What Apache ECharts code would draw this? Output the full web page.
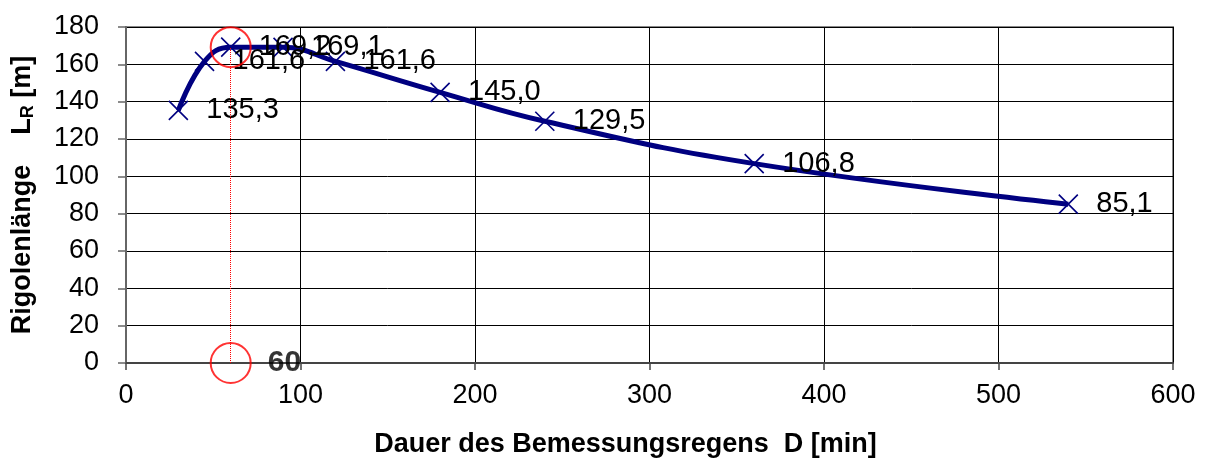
<!DOCTYPE html>
<html>
<head>
<meta charset="utf-8">
<script src="https://cdn.jsdelivr.net/npm/echarts@6/dist/echarts.min.js"></script>
<style>
html,body{margin:0;padding:0;background:#fff;}
#c{width:1207px;height:468px;}
</style>
</head>
<body>
<div id="c"></div>
<script>
// Data
var durations = [30, 45, 60, 90, 120, 180, 240, 360, 540];
var lengths = [135.3, 161.6, 169.2, 169.1, 161.6, 145.0, 129.5, 106.8, 85.1];
var optimumD = 60;
var optimumL = 169.2;
var xTitle = 'Dauer des Bemessungsregens  D [min]';

var FONT = '"Liberation Sans", Arial, sans-serif';
var seriesData = durations.map(function (d, i) { return [d, lengths[i]]; });
function fmt(v) { return v.toFixed(1).replace('.', ','); }

var chart = echarts.init(document.getElementById('c'));
chart.setOption({
  animation: false,
  backgroundColor: '#fff',
  grid: { left: 126, right: 34, top: 27, bottom: 105, show: true, borderColor: '#888', borderWidth: 2 },
  xAxis: {
    type: 'value', min: 0, max: 600, interval: 100,
    name: xTitle, nameLocation: 'middle', nameGap: 68,
    nameTextStyle: { fontFamily: FONT, fontSize: 27, fontWeight: 'bold', color: '#000', padding: [0, 48, 0, 0] },
    axisLine: { show: true, lineStyle: { color: '#444', width: 2 } },
    axisTick: { show: true, length: 7, lineStyle: { color: '#444', width: 1.5 } },
    axisLabel: { fontFamily: FONT, fontSize: 27, color: '#000', margin: 19 },
    splitLine: { show: true, lineStyle: { color: '#000', width: 1 } }
  },
  yAxis: {
    type: 'value', min: 0, max: 180, interval: 20,
    name: '{t|Rigolenlänge    L}{s|R}{t| [m]}', nameLocation: 'middle', nameGap: 89,
    nameTextStyle: {
      rich: {
        t: { fontFamily: FONT, fontSize: 27, fontWeight: 'bold', color: '#000' },
        s: { fontFamily: FONT, fontSize: 18, fontWeight: 'bold', color: '#000', padding: [10, 0, 0, 0] }
      }
    },
    axisLine: { show: true, lineStyle: { color: '#666', width: 2 } },
    axisTick: { show: true, length: 8, lineStyle: { color: '#666', width: 1.5 } },
    axisLabel: { fontFamily: FONT, fontSize: 27, color: '#000', margin: 27 },
    splitLine: { show: true, lineStyle: { color: '#000', width: 1 } }
  },
  series: [
    {
      type: 'line',
      data: seriesData,
      smooth: 0.45,
      lineStyle: { color: '#000080', width: 5 },
      symbol: 'path://M0,0L10,10M10,0L0,10',
      symbolSize: 19,
      showAllSymbol: true,
      itemStyle: { color: 'none', borderColor: '#000080', borderWidth: 1.6 },
      label: {
        show: true, position: 'right', distance: 16,
        fontFamily: FONT, fontSize: 29, color: '#000',
        formatter: function (p) { return fmt(p.value[1]); }
      },
      z: 3
    },
    {
      type: 'scatter',
      data: [[optimumD, optimumL]],
      symbol: 'circle',
      symbolSize: 40,
      itemStyle: { color: 'rgba(0,0,0,0)', borderColor: '#ff0000', borderWidth: 2 },
      silent: true,
      z: 4,
      markLine: {
        silent: true,
        symbol: ['none', 'none'],
        label: { show: false },
        lineStyle: { color: '#ff0000', type: 'dotted', width: 1 },
        data: [[{ coord: [optimumD, 0] }, { coord: [optimumD, optimumL] }]]
      }
    },
    {
      type: 'scatter',
      data: [[optimumD, 0]],
      symbol: 'circle',
      symbolSize: 40,
      clip: false,
      itemStyle: { color: 'rgba(0,0,0,0)', borderColor: '#ff0000', borderWidth: 2 },
      label: {
        show: true, position: 'right', distance: 16,
        fontFamily: FONT, fontSize: 30, fontWeight: 'bold', color: '#000',
        formatter: function (p) { return String(p.value[0]); }
      },
      silent: true,
      z: 4
    }
  ]
});
</script>
</body>
</html>
